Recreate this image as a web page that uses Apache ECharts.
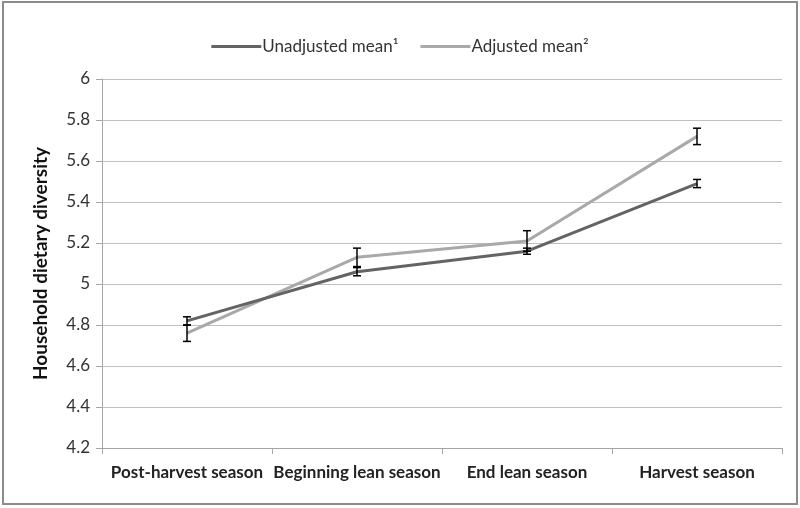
<!DOCTYPE html>
<html>
<head>
<meta charset="utf-8">
<script src="https://cdn.jsdelivr.net/npm/echarts@6/dist/echarts.min.js"></script>
<style>
  html, body { margin: 0; padding: 0; background: #fff; }
  #chart { width: 800px; height: 508px; }
</style>
</head>
<body>
<div id="chart"></div>
<script>
const seasons = ['Post-harvest season', 'Beginning lean season', 'End lean season', 'Harvest season'];
const unadjusted = [4.82, 5.06, 5.16, 5.49];
const unadjustedErr = [0.02, 0.02, 0.015, 0.02];
const adjusted = [4.76, 5.13, 5.21, 5.72];
const adjustedErr = [0.04, 0.045, 0.05, 0.04];

const fontFamily = 'Lato, "Open Sans", sans-serif';

// error bars as [category index, low, high]
function errData(vals, errs) {
  return vals.map((v, i) => [i, v - errs[i], v + errs[i]]);
}

function renderErrBar(params, api) {
  const x = api.value(0);
  const lo = api.coord([x, api.value(1)]);
  const hi = api.coord([x, api.value(2)]);
  const half = 4;
  const style = { stroke: '#000', lineWidth: 1.5 };
  return {
    type: 'group',
    children: [
      { type: 'line', shape: { x1: hi[0], y1: hi[1], x2: lo[0], y2: lo[1] }, style },
      { type: 'line', shape: { x1: hi[0] - half, y1: hi[1], x2: hi[0] + half, y2: hi[1] }, style },
      { type: 'line', shape: { x1: lo[0] - half, y1: lo[1], x2: lo[0] + half, y2: lo[1] }, style }
    ]
  };
}

const chart = echarts.init(document.getElementById('chart'));

const option = {
  animation: false,
  graphic: [{
    type: 'rect',
    shape: { x: 3, y: 2, width: 794, height: 502 },
    style: { fill: 'none', stroke: '#8c8c8c', lineWidth: 2 },
    silent: true
  }],
  legend: {
    top: 33,
    left: 'center',
    data: [
      { name: 'Unadjusted mean¹', icon: 'rect' },
      { name: 'Adjusted mean²', icon: 'rect' }
    ],
    itemWidth: 50,
    itemHeight: 3,
    itemGap: 22,
    textStyle: { fontFamily, fontSize: 17, color: '#333', padding: [0, 0, 0, -4] }
  },
  grid: {
    left: 102,
    right: 18,
    top: 79,
    bottom: 60,
    containLabel: false
  },
  xAxis: {
    type: 'category',
    data: seasons,
    boundaryGap: true,
    axisLine: { lineStyle: { color: '#a6a6a6', width: 1 } },
    axisTick: { show: true, length: 6, lineStyle: { color: '#a6a6a6' } },
    axisLabel: {
      fontFamily, fontSize: 17, fontWeight: 'bold', color: '#222',
      margin: 16, interval: 0
    }
  },
  yAxis: {
    type: 'value',
    min: 4.2,
    max: 6,
    interval: 0.2,
    name: 'Household dietary diversity',
    nameLocation: 'middle',
    nameGap: 52,
    nameTextStyle: { fontFamily, fontSize: 19, fontWeight: 'bold', color: '#111' },
    axisLine: { show: true, lineStyle: { color: '#a6a6a6' } },
    axisTick: { show: true, length: 6, lineStyle: { color: '#a6a6a6' } },
    axisLabel: {
      fontFamily, fontSize: 17, color: '#333', margin: 12,
      formatter: v => String(Math.round(v * 10) / 10)
    },
    splitLine: { lineStyle: { color: '#c0c0c0', width: 1 } }
  },
  series: [
    {
      name: 'Unadjusted mean¹',
      type: 'line',
      data: unadjusted,
      symbol: 'none',
      lineStyle: { color: '#646464', width: 3 },
      itemStyle: { color: '#646464' },
      z: 3
    },
    {
      name: 'Adjusted mean²',
      type: 'line',
      data: adjusted,
      symbol: 'none',
      lineStyle: { color: '#a9a9a9', width: 3 },
      itemStyle: { color: '#a9a9a9' },
      z: 2
    },
    {
      name: 'errUnadj',
      type: 'custom',
      renderItem: renderErrBar,
      data: errData(unadjusted, unadjustedErr),
      encode: { x: 0, y: [1, 2] },
      z: 5
    },
    {
      name: 'errAdj',
      type: 'custom',
      renderItem: renderErrBar,
      data: errData(adjusted, adjustedErr),
      encode: { x: 0, y: [1, 2] },
      z: 5
    }
  ]
};

chart.setOption(option);
</script>
</body>
</html>
